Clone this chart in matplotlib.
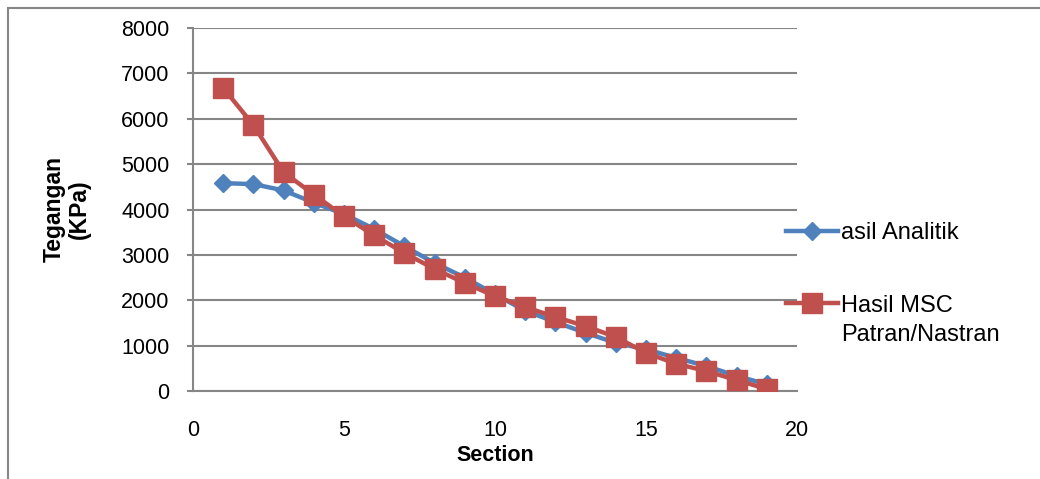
import matplotlib.pyplot as plt
from matplotlib.patches import Rectangle

# data
section = list(range(1, 20))
analitik = [4580, 4560, 4420, 4150, 3900, 3570, 3190, 2820, 2500, 2130,
            1770, 1520, 1280, 1060, 920, 730, 550, 330, 150]
msc = [6680, 5860, 4820, 4330, 3850, 3430, 3040, 2690, 2380, 2090,
       1850, 1630, 1430, 1190, 840, 600, 440, 240, 45]
xticks = [0, 5, 10, 15, 20]
yticks = [0, 1000, 2000, 3000, 4000, 5000, 6000, 7000, 8000]

plt.rcParams['font.family'] = ['Liberation Sans', 'DejaVu Sans']
grid_col = '#868686'

fig = plt.figure(figsize=(10.4, 4.79), dpi=100)
ax = fig.add_axes([193 / 1040, 1 - 391 / 479, 604 / 1040, 363 / 479])

# outer chart border
fig.patches.append(Rectangle((8 / 1040, -0.1), 1.2, 1 - 8 / 479 + 0.1,
                             transform=fig.transFigure, fill=False,
                             edgecolor=grid_col, lw=1.5))

ax.plot(section, analitik, color='#4F81BD', lw=3.2, marker='D', ms=9,
        label='asil Analitik', zorder=3)
ax.plot(section, msc, color='#C0504D', lw=3.2, marker='s', ms=14,
        label='Hasil MSC\nPatran/Nastran', zorder=4)

ax.set_xlim(0, 20)
ax.set_ylim(0, 8000)
ax.set_xticks(xticks)
ax.set_yticks(yticks)
ax.yaxis.grid(True, color=grid_col, lw=1.5)
ax.set_axisbelow(True)
for s in ['top', 'right']:
    ax.spines[s].set_visible(False)
for s in ['left', 'bottom']:
    ax.spines[s].set_color(grid_col)
    ax.spines[s].set_linewidth(1.5)
ax.tick_params(axis='y', length=4, color=grid_col, width=1.5, pad=13, labelsize=15.5)
ax.tick_params(axis='x', length=0, pad=21, labelsize=15.5)

ax.set_xlabel('Section', fontsize=15.5, fontweight='bold', labelpad=3)
ax.set_ylabel('Tegangan\n(KPa)', fontsize=16.5, fontweight='bold', labelpad=22,
              linespacing=1.1)

leg = ax.legend(loc='upper left', bbox_to_anchor=(786 / 1040, 1 - 222 / 479),
                bbox_transform=fig.transFigure, frameon=False, fontsize=17,
                handlelength=2.2, handletextpad=0.15, labelspacing=2.15,
                borderaxespad=0, borderpad=0)
for t in leg.get_texts():
    t.set_linespacing(1.45)
# put the handle next to the first line of the two-line label
rows = leg._legend_handle_box.get_children()[0].get_children()
rows[1].align = 'top'

fig.savefig('out.png', dpi=100)
